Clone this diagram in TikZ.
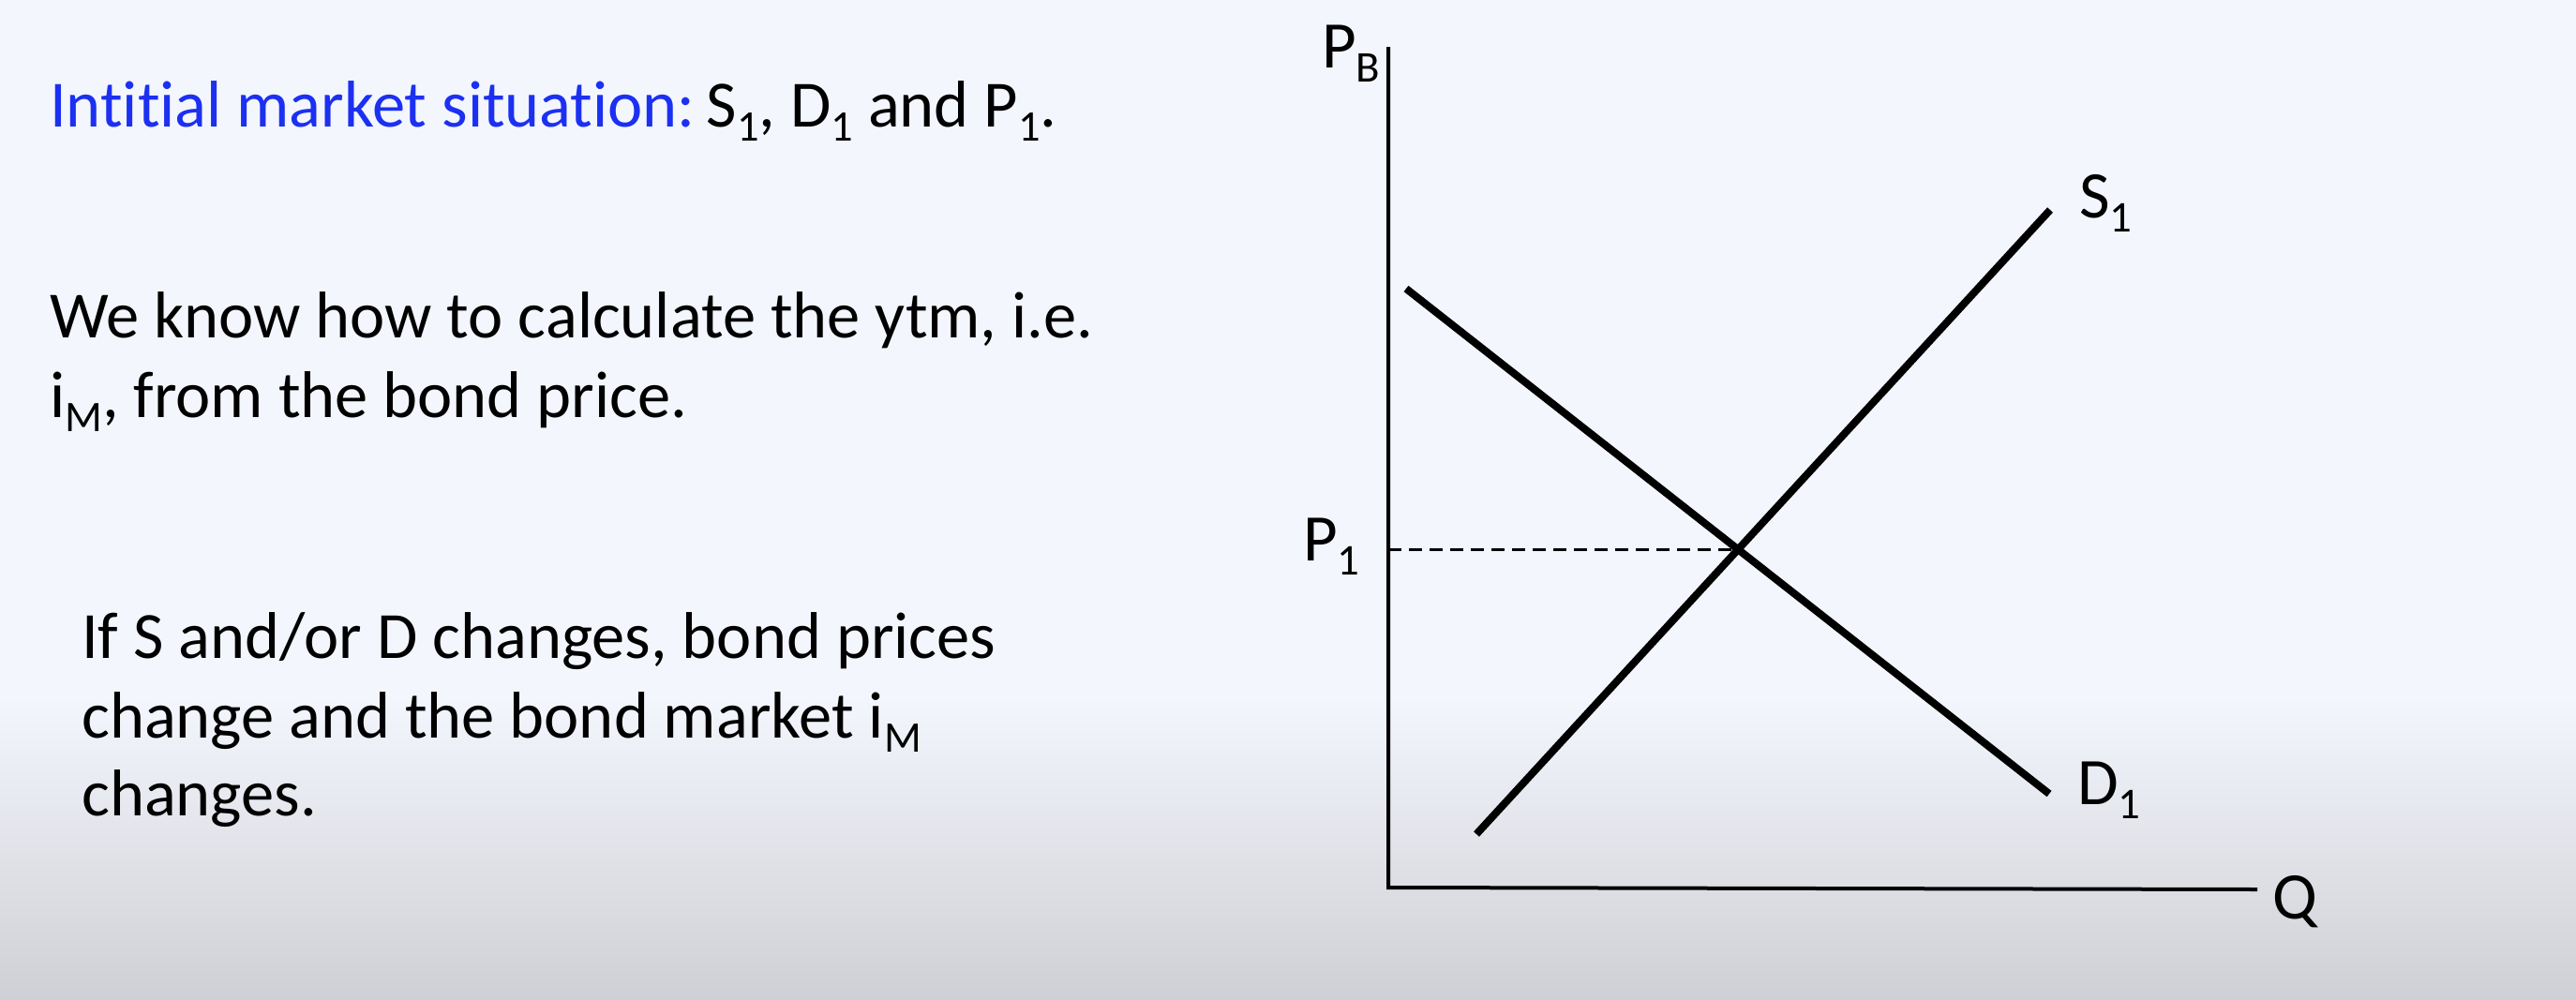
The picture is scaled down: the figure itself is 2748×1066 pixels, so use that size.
\documentclass[tikz,border=0pt]{standalone}
\usepackage{fontspec}
\setmainfont[Ligatures={NoCommon}]{Carlito}
\usetikzlibrary{calc}
\definecolor{bgtop}{RGB}{243,246,253}
\definecolor{bgbot}{RGB}{207,208,213}
\definecolor{slideblue}{RGB}{28,48,242}
\newcommand{\lsub}[1]{\raisebox{-0.22em}{\scalebox{0.66}{#1}}}
\tikzset{
  bodytext/.style={anchor=base west, inner sep=0pt, font=\fontsize{70.5}{85}\selectfont},
  axislabel/.style={anchor=base west, inner sep=0pt, font=\fontsize{71}{80}\selectfont},
  axisline/.style={line width=4pt, black},
  curve/.style={line width=8pt, black},
  guide/.style={line width=3pt, black, dash pattern=on 14pt off 8pt}
}
\begin{document}
\begin{tikzpicture}[x=1pt,y=-1pt]
\useasboundingbox (0,0) rectangle (2748,1066);
\fill[bgtop] (0,0) rectangle (2748,745);
\shade[top color=bgtop, bottom color=bgbot] (0,744) rectangle (2748,1066);

% left text
\node[bodytext] (t1) at (53,135) {\textcolor{slideblue}{Intitial market situation:}\,S\lsub{1}, D\lsub{1} and P\lsub{1}.};
\node[bodytext] (t2) at (53,360) {We know how to calculate the ytm, i.e.};
\node[bodytext] (t3) at (53,445) {i\lsub{M}, from the bond price.};
\node[bodytext] (t4) at (87,702) {If S and/or D changes, bond prices};
\node[bodytext] (t5) at (87,787) {change and the bond market i\lsub{M}};
\node[bodytext] (t6) at (87,870) {changes.};

% graph
\coordinate (O) at (1481,947);
\coordinate (ytop) at (1481,50);
\coordinate (xend) at (2408,949);
\coordinate (da) at (1500,308);
\coordinate (db) at (2186,847);
\coordinate (sa) at (1575,890);
\coordinate (sb) at (2187,224);
\coordinate (X) at (intersection of da--db and sa--sb);
\coordinate (P1pt) at ($(O)!(X)!(ytop)$);

\draw[axisline] (ytop) -- (O) -- (xend);
\draw[guide] (P1pt) -- (X);
\draw[curve] (da) -- (db);
\draw[curve] (sa) -- (sb);

\node[axislabel] (PB) at (1410,72) {P\lsub{B}};
\node[axislabel] (P1) at (1390,598) {P\lsub{1}};
\node[axislabel] (S1) at (2218,232) {S\lsub{1}};
\node[axislabel] (D1) at (2216,858) {D\lsub{1}};
\node[axislabel] (Q) at (2424,980) {Q};
\end{tikzpicture}
\end{document}
